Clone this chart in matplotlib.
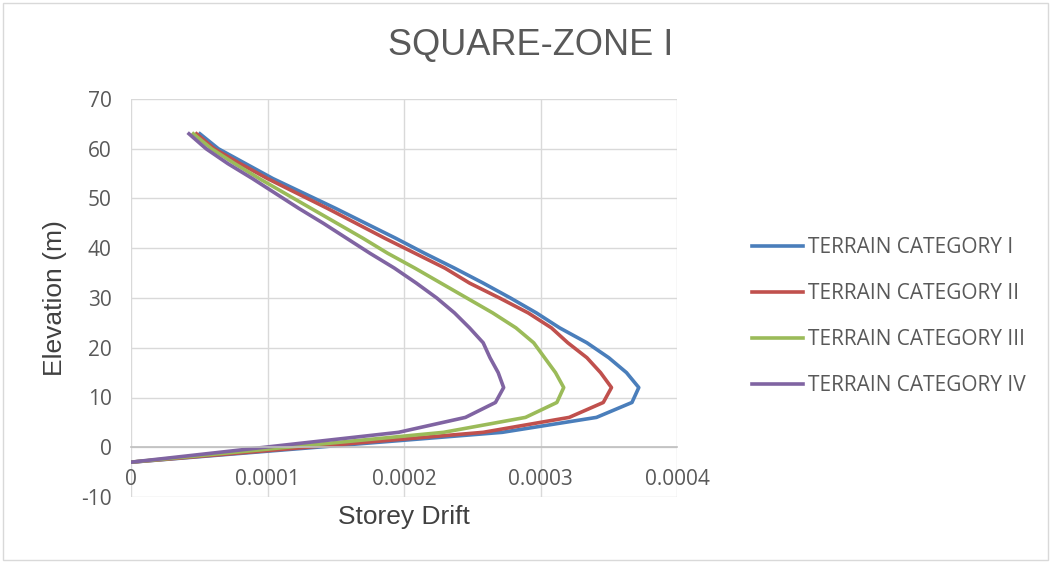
import matplotlib
matplotlib.use("Agg")
from matplotlib import pyplot as plt
from matplotlib.patches import Rectangle

plt.rcParams["axes.unicode_minus"] = False

# elevation (m) of each storey level
elevation = [-3, 3, 6, 9, 12, 15, 18, 21, 24, 27, 30, 33, 36, 39, 42, 45, 48, 51, 54, 57, 60, 63]

# storey drift per terrain category
drift_tc1 = [0, 0.000272, 0.000341, 0.000367, 0.000372, 0.000363, 0.000350, 0.000334, 0.000314,
             0.000297, 0.000278, 0.000258, 0.000237, 0.000215, 0.000194, 0.000172, 0.000150,
             0.000127, 0.000104, 0.000084, 0.000064, 0.0000505]
drift_tc2 = [0, 0.000258, 0.000321, 0.000346, 0.000352, 0.000344, 0.000334, 0.000320, 0.000308,
             0.000291, 0.000270, 0.000248, 0.000230, 0.000208, 0.000186, 0.000165, 0.000144,
             0.000122, 0.000100, 0.000080, 0.000061, 0.000048]
drift_tc3 = [0, 0.000229, 0.000289, 0.000312, 0.000317, 0.000311, 0.000303, 0.000295, 0.000282,
             0.000265, 0.000246, 0.000227, 0.000208, 0.000188, 0.000170, 0.000151, 0.000132,
             0.000113, 0.000094, 0.000076, 0.000059, 0.0000457]
drift_tc4 = [0, 0.000196, 0.000245, 0.000267, 0.000273, 0.000269, 0.000263, 0.000258, 0.000248,
             0.000237, 0.000224, 0.000209, 0.000193, 0.000175, 0.000158, 0.000141, 0.000123,
             0.000106, 0.000089, 0.000071, 0.000055, 0.0000425]

series_names = ["TERRAIN CATEGORY I", "TERRAIN CATEGORY II",
                "TERRAIN CATEGORY III", "TERRAIN CATEGORY IV"]
colors = ["#4a7ebb", "#c0504d", "#9bbb59", "#8064a2"]

xticks = [0, 0.0001, 0.0002, 0.0003, 0.0004]
xtick_labels = ["0", "0.0001", "0.0002", "0.0003", "0.0004"]
yticks = [-10, 0, 10, 20, 30, 40, 50, 60, 70]

fig = plt.figure(figsize=(10.51, 5.62), dpi=100)
fig.patches.append(Rectangle((0.003, 0.003), 0.994, 0.992, transform=fig.transFigure,
                             fill=False, edgecolor="#d9d9d9", linewidth=1))
ax = fig.add_axes([131 / 1051, 1 - 497 / 562, 546 / 1051, 398 / 562])

for drift, name, c in zip([drift_tc1, drift_tc2, drift_tc3, drift_tc4], series_names, colors):
    ax.plot(drift, elevation, color=c, linewidth=2.6, label=name, solid_joinstyle="round")

ax.set_xlim(0, 0.0004)
ax.set_ylim(-10, 70)
ax.set_xticks(xticks, labels=xtick_labels)
ax.set_yticks(yticks)
ax.grid(True, color="#d9d9d9", linewidth=1)
ax.set_axisbelow(True)
for side in ["left", "right", "top"]:
    ax.spines[side].set_visible(False)
ax.spines["bottom"].set_position(("data", 0))
ax.spines["bottom"].set_color("#bfbfbf")
ax.spines["bottom"].set_linewidth(1.2)
ax.tick_params(axis="both", length=0, labelsize=15, labelcolor="#595959")
ax.tick_params(axis="x", pad=16)
ax.tick_params(axis="y", pad=14)
for lab in ax.get_xticklabels() + ax.get_yticklabels():
    lab.set_fontfamily("Open Sans")

fig.text(531 / 1051, 1 - 46 / 562, "SQUARE-ZONE I", ha="center", va="center",
         fontsize=26, color="#595959", family="Liberation Sans")
fig.text(404 / 1051, 1 - 517 / 562, "Storey Drift", ha="center", va="center",
         fontsize=19, color="#404040", family="Liberation Sans")
fig.text(55 / 1051, 1 - 298 / 562, "Elevation (m)", ha="center", va="center",
         rotation=90, fontsize=19, color="#404040", family="Liberation Sans")

leg = fig.legend(loc="upper left", bbox_to_anchor=(752 / 1051, 1 - 237 / 562),
                 frameon=False, handlelength=2.45, handletextpad=0.25,
                 labelspacing=1.2, borderpad=0, borderaxespad=0,
                 prop={"family": "Open Sans", "size": 15})
for t in leg.get_texts():
    t.set_color("#595959")

fig.savefig("out.png", dpi=100)
